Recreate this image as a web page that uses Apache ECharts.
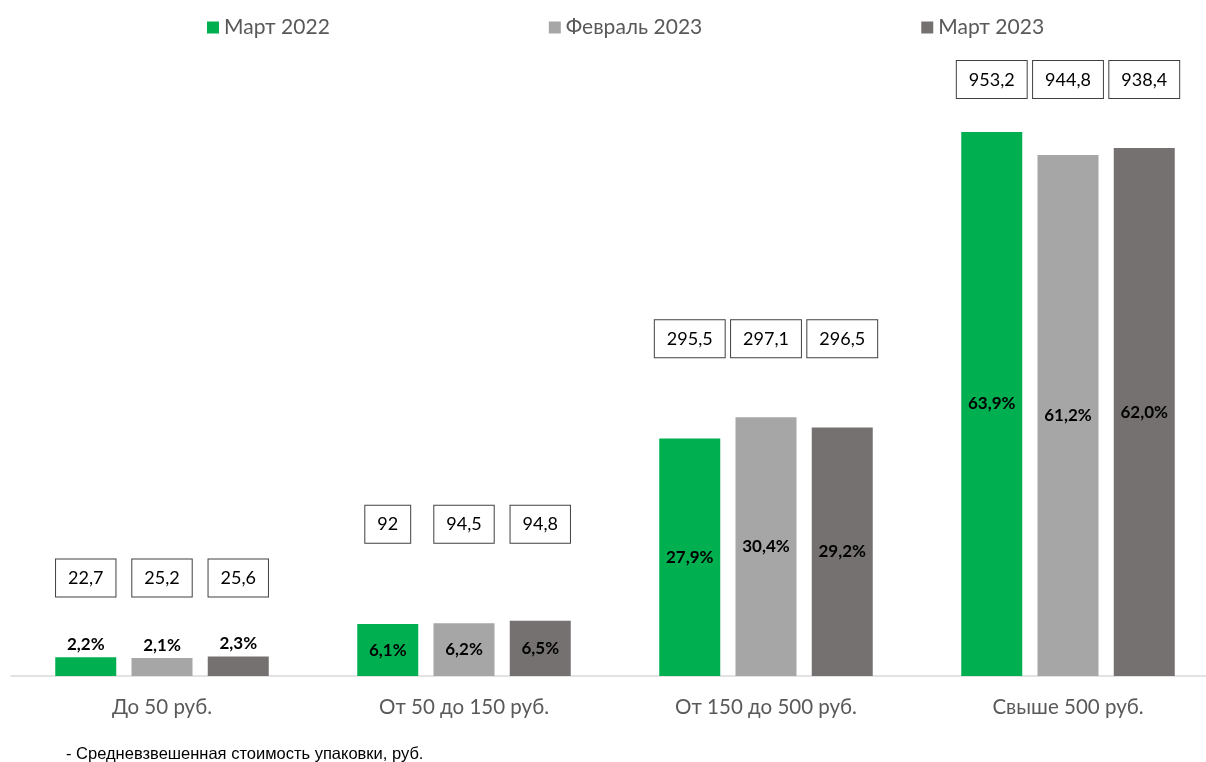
<!DOCTYPE html>
<html>
<head>
<meta charset="utf-8">
<script src="https://cdn.jsdelivr.net/npm/echarts@6/dist/echarts.min.js"></script>
<style>
  html, body { margin: 0; padding: 0; background: #fff; }
  #chart { width: 1206px; height: 762px; }
</style>
</head>
<body>
<div id="chart"></div>
<script>
// price bands
var categories = ['До 50 руб.', 'От 50 до 150 руб.', 'От 150 до 500 руб.', 'Свыше 500 руб.'];
var seriesNames = ['Март 2022', 'Февраль 2023', 'Март 2023'];

// share of sales, %
var shareMar2022 = [2.2, 6.1, 27.9, 63.9];
var shareFeb2023 = [2.1, 6.2, 30.4, 61.2];
var shareMar2023 = [2.3, 6.5, 29.2, 62.0];

// weighted average package cost, rub.
var costMar2022 = [22.7, 92, 295.5, 953.2];
var costFeb2023 = [25.2, 94.5, 297.1, 944.8];
var costMar2023 = [25.6, 94.8, 296.5, 938.4];

var colors = ['#00b050', '#a6a6a6', '#767171'];
// gap (px) between the tallest bar of a group and its cost boxes
var boxGap = [60, 78, 60, 34];

var shares = [shareMar2022, shareFeb2023, shareMar2023];
var costs = [costMar2022, costFeb2023, costMar2023];

var groupMax = categories.map(function (c, i) {
  return Math.max(shareMar2022[i], shareFeb2023[i], shareMar2023[i]);
});

function comma(v) {
  return String(v).replace('.', ',');
}

var chart = echarts.init(document.getElementById('chart'));

var series = [];
shares.forEach(function (sh, s) {
  series.push({
    name: seriesNames[s],
    type: 'bar',
    stack: 'g' + s,
    barWidth: 61,
    barGap: '25%',
    itemStyle: { color: colors[s] },
    label: {
      show: true,
      color: '#000',
      fontFamily: 'Lato',
      fontWeight: 'bold',
      fontSize: 17,
      formatter: function (p) { return sh[p.dataIndex].toFixed(1).replace('.', ',') + '%'; }
    },
    data: sh.map(function (v, i) {
      return { value: v, label: { position: i === 0 ? 'top' : 'inside', distance: 4 } };
    })
  });
  // invisible filler up to the group's tallest bar, carries the cost box
  series.push({
    name: 'cost' + s,
    type: 'bar',
    stack: 'g' + s,
    silent: true,
    itemStyle: { color: 'rgba(0,0,0,0)' },
    label: {
      show: true,
      position: 'top',
      color: '#000',
      fontFamily: 'Lato',
      fontSize: 18,
      backgroundColor: '#fff',
      borderColor: '#404040',
      borderWidth: 1,
      padding: [10, 12, 9, 12],
      formatter: function (p) { return comma(costs[s][p.dataIndex]); }
    },
    data: sh.map(function (v, i) {
      return { value: +(groupMax[i] - v).toFixed(2), label: { distance: boxGap[i] } };
    })
  });
});

var option = {
  animation: false,
  legend: {
    data: seriesNames,
    left: 202,
    top: 12,
    itemWidth: 12,
    itemHeight: 12,
    itemGap: 219,
    icon: 'rect',
    textStyle: { color: '#595959', fontSize: 21, fontFamily: 'Lato' }
  },
  grid: {
    left: 11,
    width: 1208,
    top: 80,
    bottom: 86,
    containLabel: false,
    outerBoundsMode: 'none'
  },
  xAxis: {
    type: 'category',
    data: categories,
    axisTick: { show: false },
    axisLine: { lineStyle: { color: '#d9d9d9', width: 1.5 } },
    axisLabel: { color: '#595959', fontSize: 20.5, fontFamily: 'Lato', margin: 21 }
  },
  yAxis: {
    type: 'value',
    min: 0,
    max: 70,
    show: false,
    splitLine: { show: false }
  },
  graphic: [{
    type: 'text',
    left: 66,
    top: 746,
    style: {
      text: '- Средневзвешенная стоимость упаковки, руб.',
      fill: '#000',
      font: '16.5px "Liberation Sans"'
    }
  }],
  series: series
};

chart.setOption(option);
</script>
</body>
</html>
